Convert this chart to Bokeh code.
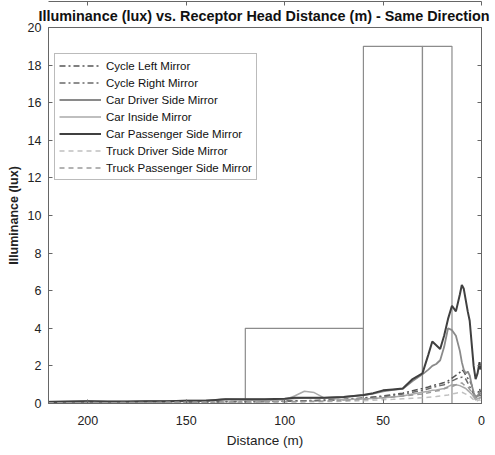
from bokeh.plotting import figure
from bokeh.models import Range1d, LinearAxis, Legend, LegendItem, Title, FixedTicker
from bokeh.embed import file_html
from bokeh.resources import INLINE

distance = [220, 210, 200, 190, 180, 170, 160, 150, 140, 130, 120, 110, 100, 95, 90, 85, 80, 70, 60, 55,
            50, 45, 40, 35, 30, 27, 25, 23, 21, 19, 17, 15, 13, 11, 10, 9, 8, 7, 6, 5, 4, 3, 2, 1, 0.5]

cycle_left = [0.05, 0.06, 0.07, 0.06, 0.06, 0.07, 0.08, 0.08, 0.09, 0.1, 0.1, 0.11, 0.13, 0.14, 0.15, 0.16, 0.18, 0.22, 0.3, 0.35,
              0.4, 0.48, 0.55, 0.68, 0.8, 0.88, 0.95, 1.0, 1.05, 1.12, 1.2, 1.35, 1.5, 1.65, 1.8, 1.7, 1.5, 1.35, 1.2, 1.0, 0.6, 0.3, 0.5, 0.8, 0.6]
cycle_right = [0.04, 0.05, 0.06, 0.05, 0.05, 0.06, 0.07, 0.07, 0.08, 0.09, 0.09, 0.1, 0.12, 0.13, 0.14, 0.15, 0.16, 0.2, 0.27, 0.32,
               0.36, 0.43, 0.5, 0.6, 0.7, 0.78, 0.85, 0.9, 0.95, 1.0, 1.1, 1.2, 1.3, 1.38, 1.4, 1.38, 1.3, 1.1, 0.9, 0.7, 0.5, 0.2, 0.35, 0.5, 0.4]
car_driver = [0.1, 0.1, 0.12, 0.1, 0.1, 0.12, 0.12, 0.15, 0.16, 0.22, 0.22, 0.22, 0.25, 0.28, 0.3, 0.3, 0.3, 0.35, 0.45, 0.52,
              0.65, 0.72, 0.78, 1.2, 1.55, 1.8, 2.0, 2.1, 2.3, 3.0, 4.0, 3.9, 3.6, 2.8, 2.2, 1.8, 1.6, 1.7, 1.5, 1.0, 0.6, 0.3, 0.4, 0.6, 0.5]
car_inside = [0.05, 0.05, 0.06, 0.05, 0.06, 0.07, 0.08, 0.1, 0.12, 0.25, 0.18, 0.15, 0.2, 0.4, 0.65, 0.58, 0.3, 0.2, 0.25, 0.27,
              0.3, 0.35, 0.4, 0.5, 0.6, 0.65, 0.7, 0.72, 0.76, 0.8, 0.9, 1.0, 1.0, 0.95, 0.9, 0.85, 0.8, 0.7, 0.6, 0.5, 0.35, 0.2, 0.25, 0.3, 0.25]
car_passenger = [0.08, 0.1, 0.12, 0.1, 0.1, 0.12, 0.12, 0.15, 0.15, 0.22, 0.22, 0.22, 0.25, 0.3, 0.3, 0.3, 0.3, 0.35, 0.45, 0.55,
                 0.7, 0.75, 0.8, 1.3, 1.6, 2.6, 3.3, 3.1, 2.9, 3.6, 4.5, 5.2, 4.9, 5.8, 6.3, 6.1, 5.5, 4.9, 4.4, 3.2, 2.0, 1.3, 1.6, 2.2, 1.8]
truck_driver = [0.03, 0.03, 0.04, 0.03, 0.04, 0.04, 0.05, 0.05, 0.06, 0.06, 0.07, 0.07, 0.08, 0.08, 0.09, 0.09, 0.1, 0.12, 0.15, 0.17,
                0.2, 0.22, 0.25, 0.28, 0.3, 0.33, 0.35, 0.37, 0.4, 0.42, 0.45, 0.5, 0.55, 0.58, 0.6, 0.55, 0.5, 0.45, 0.4, 0.3, 0.2, 0.1, 0.15, 0.2, 0.15]
truck_passenger = [0.04, 0.04, 0.05, 0.04, 0.05, 0.05, 0.06, 0.06, 0.07, 0.08, 0.08, 0.09, 0.1, 0.1, 0.11, 0.12, 0.13, 0.16, 0.22, 0.26,
                   0.3, 0.35, 0.4, 0.45, 0.5, 0.57, 0.62, 0.66, 0.7, 0.78, 0.85, 0.9, 1.0, 1.05, 1.1, 1.0, 0.95, 0.9, 0.75, 0.6, 0.45, 0.3, 0.35, 0.4, 0.3]

series_names = ["Cycle Left Mirror", "Cycle Right Mirror", "Car Driver Side Mirror", "Car Inside Mirror",
                "Car Passenger Side Mirror", "Truck Driver Side Mirror", "Truck Passenger Side Mirror"]
series_values = [cycle_left, cycle_right, car_driver, car_inside, car_passenger, truck_driver, truck_passenger]

box_left = [120, 60, 30]
box_right = [60, 30, 15]
box_top = [4, 19, 19]

x_ticks = [200, 150, 100, 50, 0]
y_ticks = [0, 2, 4, 6, 8, 10, 12, 14, 16, 18, 20]

colors = ["#555555", "#6a6a6a", "#8a8a8a", "#aaaaaa", "#404040", "#c0c0c0", "#9a9a9a"]
dashes = ["6 3 2 3", "6 3 2 3", "solid", "solid", "solid", "5 4", "5 4"]
widths = [1.5, 1.5, 1.8, 1.5, 2.0, 1.5, 1.5]

FONT = "Liberation Sans"

p = figure(width=494, height=450, output_backend="svg", toolbar_location=None,
           x_range=Range1d(220, 0), y_range=Range1d(0, 20),
           min_border_left=48, min_border_right=13, min_border_bottom=45, min_border_top=27)
p.xgrid.visible = False
p.ygrid.visible = False
p.outline_line_color = "#666666"
p.outline_line_width = 1
p.background_fill_color = "white"
p.border_fill_color = "white"

title = Title(text="Illuminance (lux) vs. Receptor Head Distance (m) - Same Direction",
              text_font=FONT, text_font_size="14.4px", text_font_style="bold",
              align="left", text_color="#111111", offset=-10, standoff=8)
p.add_layout(title, "above")

p.quad(left=box_left, right=box_right, bottom=[0, 0, 0], top=box_top,
       fill_alpha=0, line_color="#8c8c8c", line_width=1.2)

items = []
for name, vals, c, d, w in zip(series_names, series_values, colors, dashes, widths):
    r = p.line(distance, vals, line_color=c, line_dash=d, line_width=w)
    items.append(LegendItem(label=name, renderers=[r]))

legend = Legend(items=items, location=(6, 223), label_text_font=FONT, label_text_font_size="11.5px",
                glyph_width=42, glyph_height=15, label_height=15, spacing=2, padding=4, margin=0,
                label_standoff=5, border_line_color="#777777", border_line_width=1,
                label_text_color="#111111", background_fill_alpha=1)
p.add_layout(legend, "center")

for ax in [p.xaxis[0], p.yaxis[0]]:
    ax.major_tick_in = 4
    ax.major_tick_out = 0
    ax.minor_tick_in = 0
    ax.minor_tick_out = 0
    ax.axis_line_color = "#666666"
    ax.major_tick_line_color = "#666666"
    ax.major_label_text_font = FONT
    ax.major_label_text_font_size = "12.5px"
    ax.major_label_text_color = "#222222"
    ax.axis_label_text_font = FONT
    ax.axis_label_text_color = "#222222"

p.xaxis[0].ticker = FixedTicker(ticks=x_ticks)
p.yaxis[0].ticker = FixedTicker(ticks=y_ticks)
p.xaxis[0].axis_label = "Distance (m)"
p.xaxis[0].axis_label_text_font_style = "normal"
p.xaxis[0].axis_label_text_font_size = "13.5px"
p.xaxis[0].major_label_standoff = 12
p.xaxis[0].axis_label_standoff = 5
p.yaxis[0].axis_label = "Illuminance (lux)"
p.yaxis[0].axis_label_text_font_style = "bold"
p.yaxis[0].axis_label_text_font_size = "12.5px"
p.yaxis[0].major_label_standoff = 7
p.yaxis[0].axis_label_standoff = 4

for loc, tk in [("above", x_ticks), ("right", y_ticks)]:
    ax = LinearAxis(ticker=FixedTicker(ticks=tk), major_tick_in=4, major_tick_out=0,
                    minor_tick_in=0, minor_tick_out=0, major_label_text_font_size="1px",
                    major_label_text_color=None, major_label_standoff=0,
                    axis_line_color="#666666", major_tick_line_color="#666666")
    p.add_layout(ax, loc)

open("out.html", "w").write(file_html(p, INLINE))
